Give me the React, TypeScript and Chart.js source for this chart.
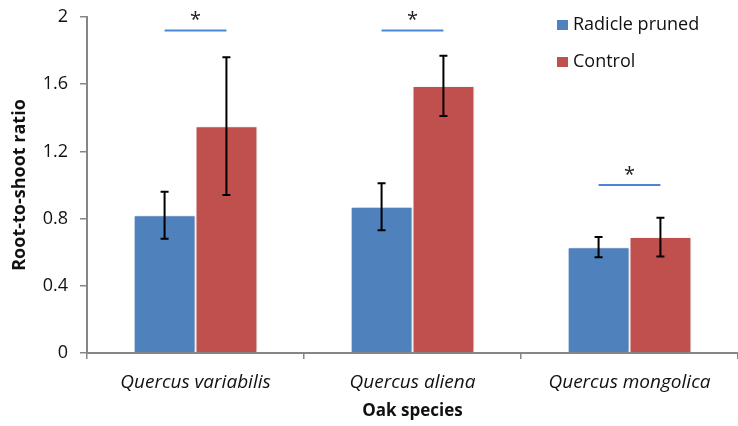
import React, { useEffect, useRef } from "react";
import { Chart, registerables } from "chart.js";

Chart.register(...registerables);

const categories = ["Quercus variabilis", "Quercus aliena", "Quercus mongolica"];
const seriesNames = ["Radicle pruned", "Control"];
const radiclePruned = [0.82, 0.87, 0.63];
const radiclePrunedErr = [0.14, 0.14, 0.06];
const control = [1.35, 1.59, 0.69];
const controlErr = [0.41, 0.18, 0.115];
const sigLevels = [1.92, 1.92, 1.0];
const sigMarks = ["*", "*", "*"];
const yTickLabels = ["0", "0.4", "0.8", "1.2", "1.6", "2"];

const BLUE = "#4F81BD";
const RED = "#C0504D";
const FONT = "'Open Sans', Lato, sans-serif";

export default function App() {
  const ref = useRef<HTMLCanvasElement | null>(null);

  useEffect(() => {
    document.body.style.margin = "0";
    const errs = [radiclePrunedErr, controlErr];
    const overlay = {
      id: "overlay",
      beforeDatasetsDraw(chart: any) {
        const ctx = chart.ctx;
        ctx.save();
        ctx.shadowColor = "rgba(0,0,0,0.18)";
        ctx.shadowBlur = 3;
        ctx.shadowOffsetX = 2;
        ctx.shadowOffsetY = 0;
      },
      afterDatasetsDraw(chart: any) {
        const ctx = chart.ctx;
        ctx.restore();
        const y = chart.scales.y;
        ctx.save();
        // error bars
        ctx.strokeStyle = "#000";
        ctx.lineWidth = 2;
        chart.data.datasets.forEach((ds: any, i: number) => {
          const meta = chart.getDatasetMeta(i);
          meta.data.forEach((el: any, j: number) => {
            const v = ds.data[j];
            const e = errs[i][j];
            const yt = y.getPixelForValue(v + e);
            const yb = y.getPixelForValue(v - e);
            ctx.beginPath();
            ctx.moveTo(el.x, yt);
            ctx.lineTo(el.x, yb);
            ctx.moveTo(el.x - 4, yt);
            ctx.lineTo(el.x + 4, yt);
            ctx.moveTo(el.x - 4, yb);
            ctx.lineTo(el.x + 4, yb);
            ctx.stroke();
          });
        });
        // significance markers
        const m0 = chart.getDatasetMeta(0);
        const m1 = chart.getDatasetMeta(1);
        ctx.strokeStyle = "#4A86D6";
        ctx.lineWidth = 2;
        ctx.fillStyle = "#222";
        ctx.font = `20px ${FONT}`;
        ctx.textAlign = "center";
        ctx.textBaseline = "alphabetic";
        sigLevels.forEach((lv, j) => {
          const x0 = m0.data[j].x;
          const x1 = m1.data[j].x;
          const py = y.getPixelForValue(lv);
          ctx.beginPath();
          ctx.moveTo(x0, py);
          ctx.lineTo(x1, py);
          ctx.stroke();
          ctx.fillText(sigMarks[j], (x0 + x1) / 2, py - 4);
        });
        // legend
        const colors = [BLUE, RED];
        ctx.font = `18px ${FONT}`;
        ctx.textAlign = "left";
        ctx.textBaseline = "middle";
        seriesNames.forEach((name, i) => {
          const cy = 25 + i * 37;
          ctx.fillStyle = colors[i];
          ctx.fillRect(557, cy - 5, 11, 10);
          ctx.fillStyle = "#111";
          ctx.fillText(name, 573, cy);
        });
        ctx.restore();
      },
    };

    const chart = new Chart(ref.current as HTMLCanvasElement, {
      type: "bar",
      data: {
        labels: categories,
        datasets: [
          {
            label: seriesNames[0],
            data: radiclePruned,
            backgroundColor: BLUE,
            borderColor: "#ffffff",
            borderWidth: 1,
            categoryPercentage: 0.57,
            barPercentage: 1.0,
          },
          {
            label: seriesNames[1],
            data: control,
            backgroundColor: RED,
            borderColor: "#ffffff",
            borderWidth: 1,
            categoryPercentage: 0.57,
            barPercentage: 1.0,
          },
        ],
      },
      options: {
        responsive: false,
        animation: false,
        layout: { padding: { left: 6, top: 17, right: 0, bottom: 0 } },
        plugins: {
          legend: { display: false },
          tooltip: { enabled: false },
        },
        scales: {
          x: {
            grid: {
              offset: true,
              drawOnChartArea: false,
              drawTicks: true,
              tickLength: 6,
              color: "#868686",
              lineWidth: 1.5,
            },
            border: { color: "#868686", width: 2 },
            ticks: {
              padding: 12,
              color: "#111",
              font: { family: FONT, size: 19, style: "italic" },
              maxRotation: 0,
            },
            title: {
              display: true,
              text: "Oak species",
              color: "#111",
              font: { family: FONT, size: 17, weight: "bold" },
              padding: { top: 0, bottom: 5 },
            },
            afterFit(scale: any) {
              scale.height = 73;
              scale.paddingLeft = 0;
              scale.paddingRight = 0;
            },
          },
          y: {
            min: 0,
            max: 2,
            grid: {
              drawOnChartArea: false,
              drawTicks: true,
              tickLength: 7,
              color: "#868686",
              lineWidth: 1.5,
            },
            border: { color: "#868686", width: 2 },
            ticks: {
              stepSize: 0.4,
              padding: 12,
              color: "#111",
              font: { family: FONT, size: 18 },
              callback: (_v: any, i: number) => yTickLabels[i],
            },
            title: {
              display: true,
              text: "Root-to-shoot ratio",
              color: "#111",
              font: { family: FONT, size: 18, weight: "bold" },
              padding: { top: 3, bottom: 0 },
            },
            afterFit(scale: any) {
              scale.width = 81;
              scale.paddingTop = 0;
              scale.paddingBottom = 0;
            },
          },
        },
      },
      plugins: [overlay],
    } as any);
    return () => chart.destroy();
  }, []);

  return (
    <div style={{ position: "absolute", left: 0, top: 0, width: 738, height: 426, background: "#fff" }}>
      <canvas ref={ref} width={738} height={426} />
    </div>
  );
}
